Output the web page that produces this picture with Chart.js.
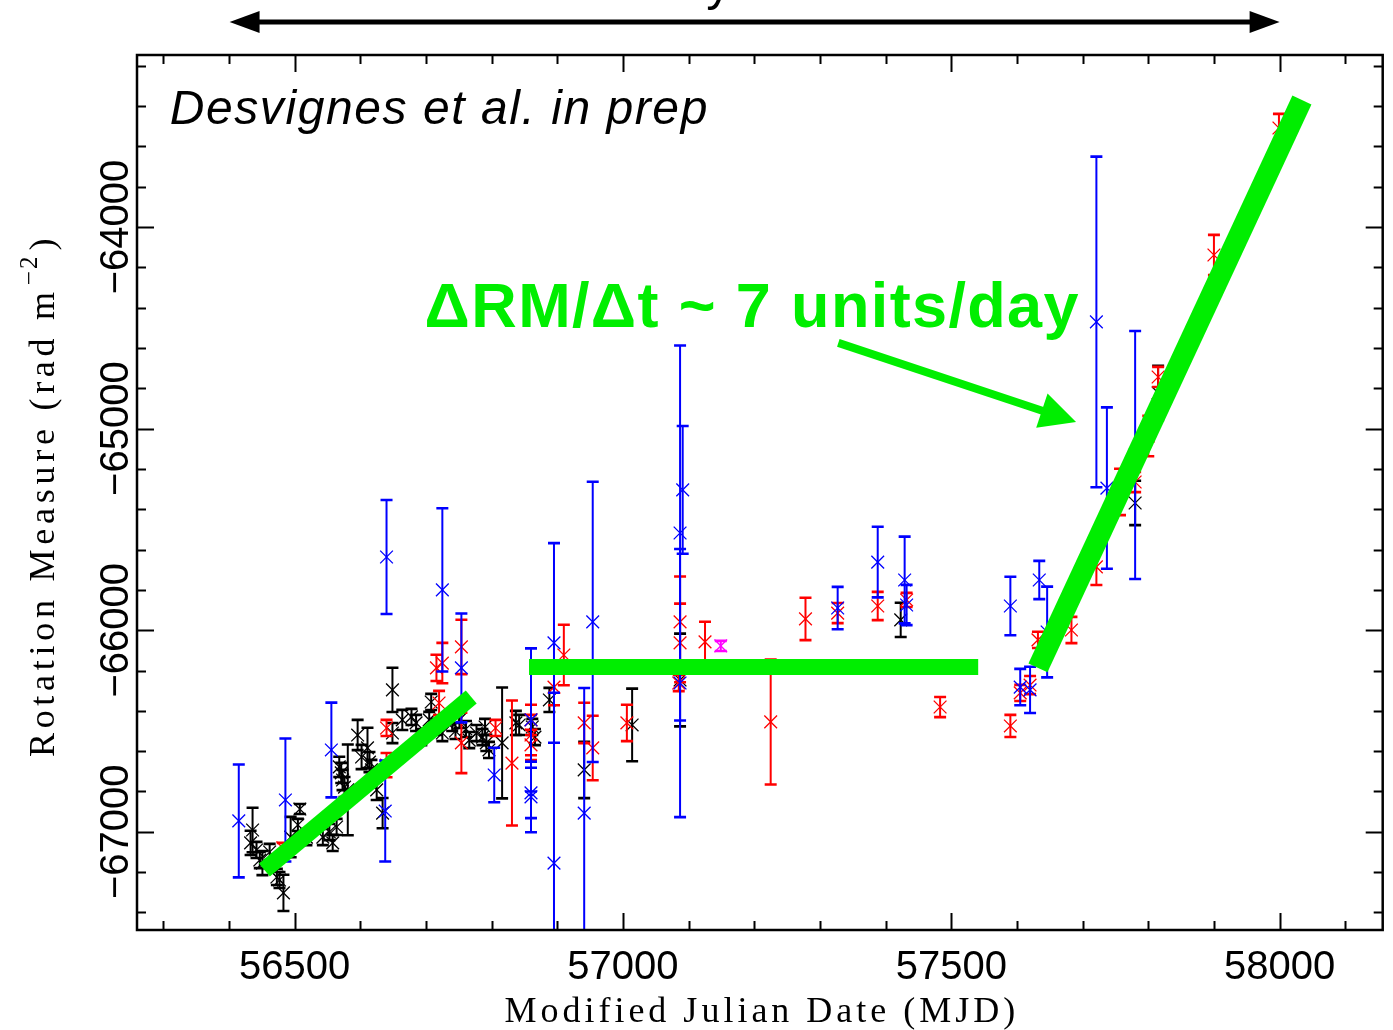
<!DOCTYPE html>
<html>
<head>
<meta charset="utf-8">
<script src="https://cdn.jsdelivr.net/npm/chart.js@4.4.0/dist/chart.umd.min.js"></script>
<style>
html,body{margin:0;padding:0;background:#ffffff;}
#wrap{width:1393px;height:1030px;position:relative;}
canvas{display:block;}
</style>
</head>
<body>
<div id="wrap"><canvas id="c" width="1393" height="1030"></canvas></div>
<script>
// ---------------- DATA (MJD, RM, 1-sigma error) ----------------
const blackMJD = [56436,56433,56442,56447,56451,56462,56473,56477,56483,56508,56505,56494,56518,56543,56553,56558,56564,56568,56571,56573,56576,56581,56596,56602,56611,56614,56617,56625,56634,56649,56649,56664,56678,56685,56693,56705,56708,56716,56725,56740,56745,56751,56761,56766,56777,56786,56790,56792,56796,56816,56837,56842,56862,56866,56888,56941,57014,57087,57423,57780,57815];
const blackRM  = [-66991,-67055,-67090,-67140,-67155,-67100,-67224,-67239,-67303,-66887,-66966,-67026,-67026,-67026,-67001,-67055,-66976,-66678,-66708,-66743,-66778,-66792,-66520,-66629,-66584,-66654,-66693,-66792,-66907,-66296,-66510,-66445,-66430,-66460,-66530,-66445,-66356,-66480,-66510,-66460,-66500,-66445,-66490,-66545,-66510,-66530,-66480,-66559,-66594,-66559,-66460,-66470,-66480,-66530,-66346,-66693,-66470,-66247,-65949,-65369,-64823];
const blackErr = [110,60,40,40,60,40,40,40,90,25,30,100,40,40,40,40,40,50,50,50,50,225,75,60,100,50,50,50,75,110,50,50,40,40,40,40,40,40,40,40,40,40,40,40,40,40,40,40,40,275,60,50,40,40,60,140,180,230,85,110,135];

const redMJD = [56640,56482,56716,56725,56754,56720,56640,56754,56831,56806,56860,56860,56860,56910,56895,56941,56954,57006,57087,57087,57085,57125,57225,57278,57327,57388,57432,57483,57590,57605,57620,57632,57683,57721,57757,57780,57800,57815,57900,57999];
const redRM  = [-66485,-67080,-66187,-66163,-66083,-66361,-66669,-66559,-66659,-66485,-66445,-66520,-66569,-66123,-66282,-66460,-66584,-66460,-65959,-66063,-66262,-66058,-66455,-65944,-65915,-65880,-65850,-66381,-66475,-66311,-66272,-66048,-65999,-65686,-65314,-65265,-65037,-64744,-64139,-63509];
const redErr = [40,25,65,100,135,60,60,150,310,40,75,100,75,150,90,100,160,90,225,195,40,100,310,105,50,70,35,50,55,40,45,40,65,90,115,50,100,50,100,70];

const blueMJD = [56415,56486,56556,56640,56638,56725,56754,56804,56860,56860,56860,56895,56895,56941,56954,57091,57087,57087,57327,57388,57429,57432,57590,57634,57646,57605,57620,57721,57737,57780];
const blueRM  = [-66946,-66842,-66594,-65637,-66897,-65800,-66187,-66718,-66445,-66807,-66827,-66063,-67155,-66907,-65959,-65304,-65518,-66262,-65890,-65662,-65751,-65875,-65880,-65751,-66009,-66282,-66296,-64471,-65295,-65131];
const blueErr = [280,305,235,283,250,405,270,135,355,125,175,495,845,620,695,317,930,665,105,175,215,100,145,95,225,90,115,820,400,615];

const magentaMJD = [57149];
const magentaRM  = [-66078];
const magentaErr = [25];

// green trend lines drawn over the data (MJD / RM end points)
const trend1MJD = [56454, 56769];  const trend1RM = [-67189, -66331];
const trend2MJD = [56857, 57541];  const trend2RM = [-66182, -66182];
const trend3MJD = [57632, 58034];  const trend3RM = [-66187, -63370];

// axis ticks
const xMajorTicks = [56500, 57000, 57500, 58000];
const yMajorTicks = [-67000, -66000, -65000, -64000];
const xMinorStep = 100, yMinorStep = 200;
const xRange = [56260, 58157];
const yRange = [-67487, -63147];

// annotations (in data units)
const slopeText = 'ΔRM/Δt ~ 7 units/day';
const slopeTextPos = [56698, -64496, 57696];      // left MJD, baseline RM, right MJD
const slopeArrow = [[57328, -64575], [57690, -64967]];
const creditText = 'Desvignes et al. in prep';
const creditTextPos = [56310, -63489, 57131];
const spanArrow = [[56401, -62983], [58000, -62983]];
const spanText = '~ 4 years';
const spanTextPos = [57313, -62874];

// ---------------- helpers ----------------
function pts(xs, ys){ return xs.map((v,i)=>({x:v, y:ys[i]})); }
const GREEN = '#00ee00';

function series(xs, ys, errs, color, order){
  return {
    type:'scatter', data:pts(xs, ys), errors:errs,
    borderColor:color, backgroundColor:color,
    pointStyle:'crossRot', pointRadius:9, pointBorderWidth:1.3, pointHoverRadius:9,
    showLine:false, order:order
  };
}
function trend(xs, ys, w){
  return { type:'scatter', data:pts(xs, ys), showLine:true, borderColor:GREEN, backgroundColor:GREEN,
    borderWidth:w, borderCapStyle:'butt', pointRadius:0, pointHoverRadius:0, order:0 };
}

const errorBarPlugin = {
  id:'errbars',
  beforeDatasetDraw(chart, args){
    const ds = chart.data.datasets[args.index];
    if(!ds.errors) return;
    const ctx = chart.ctx, ca = chart.chartArea, xs = chart.scales.x, ys = chart.scales.y;
    ctx.save();
    ctx.beginPath(); ctx.rect(ca.left, ca.top, ca.right-ca.left, ca.bottom-ca.top); ctx.clip();
    ctx.strokeStyle = ds.borderColor;
    ds.data.forEach((p,i)=>{
      const e = ds.errors[i];
      const px = xs.getPixelForValue(p.x);
      const y1 = ys.getPixelForValue(p.y + e), y2 = ys.getPixelForValue(p.y - e);
      ctx.lineWidth = 2;
      ctx.beginPath(); ctx.moveTo(px, y1); ctx.lineTo(px, y2); ctx.stroke();
      ctx.lineWidth = 2.6;
      ctx.beginPath();
      ctx.moveTo(px-6, y1); ctx.lineTo(px+6, y1);
      ctx.moveTo(px-6, y2); ctx.lineTo(px+6, y2);
      ctx.stroke();
    });
    ctx.restore();
  }
};

function drawArrowHead(ctx, x0, y0, x1, y1, len, hw){
  const dx = x1-x0, dy = y1-y0, L = Math.hypot(dx, dy);
  const ux = dx/L, uy = dy/L, nx = -uy, ny = ux;
  const bx = x1 - ux*len, by = y1 - uy*len;
  ctx.beginPath();
  ctx.moveTo(x1, y1);
  ctx.lineTo(bx + nx*hw, by + ny*hw);
  ctx.lineTo(bx - nx*hw, by - ny*hw);
  ctx.closePath(); ctx.fill();
}

function fitSpacing(ctx, text, target){
  ctx.letterSpacing = '0px';
  const w = ctx.measureText(text).width;
  const n = [...text].length;
  const sp = (target - w) / Math.max(1, n);
  ctx.letterSpacing = sp.toFixed(2) + 'px';
}

const framePlugin = {
  id:'frame',
  afterDraw(chart){
    const ctx = chart.ctx, ca = chart.chartArea, xs = chart.scales.x, ys = chart.scales.y;
    ctx.save();
    // ticks (inward, all four sides)
    ctx.strokeStyle = '#000'; ctx.lineWidth = 2;
    const majLen = 17, minLen = 9;
    ctx.beginPath();
    for(let v = Math.ceil(xRange[0]/xMinorStep)*xMinorStep; v <= xRange[1]; v += xMinorStep){
      const px = Math.round(xs.getPixelForValue(v)) + 0.5;
      const len = (xMajorTicks.includes(v)) ? majLen : minLen;
      ctx.moveTo(px, ca.bottom); ctx.lineTo(px, ca.bottom - len);
      ctx.moveTo(px, ca.top); ctx.lineTo(px, ca.top + len);
    }
    for(let v = Math.ceil(yRange[0]/yMinorStep)*yMinorStep; v <= yRange[1]; v += yMinorStep){
      const py = Math.round(ys.getPixelForValue(v)) + 0.5;
      const len = (yMajorTicks.includes(v)) ? majLen : minLen;
      ctx.moveTo(ca.left, py); ctx.lineTo(ca.left + len, py);
      ctx.moveTo(ca.right, py); ctx.lineTo(ca.right - len, py);
    }
    ctx.stroke();
    // frame
    ctx.lineWidth = 2.5;
    ctx.strokeRect(ca.left, ca.top, ca.right-ca.left, ca.bottom-ca.top);

    // tick labels
    ctx.fillStyle = '#000';
    ctx.font = '40px "Liberation Sans", Arial, sans-serif';
    ctx.textAlign = 'center'; ctx.textBaseline = 'alphabetic';
    xMajorTicks.forEach(v=>{
      ctx.fillText(String(v), xs.getPixelForValue(v), ca.bottom + 49);
    });
    yMajorTicks.forEach(v=>{
      const py = ys.getPixelForValue(v);
      ctx.save(); ctx.translate(ca.left - 9, py); ctx.rotate(-Math.PI/2);
      ctx.fillText('\u2212' + String(Math.abs(v)), 0, 0);
      ctx.restore();
    });

    // axis titles
    ctx.font = '36px "Liberation Serif", "DejaVu Serif", serif';
    ctx.textAlign = 'center';
    const xt = 'Modified Julian Date (MJD)';
    fitSpacing(ctx, xt, 515);
    ctx.fillText(xt, (ca.left+ca.right)/2 + 2, ca.bottom + 92);
    // y title with superscript
    const main = 'Rotation Measure (rad m', sup = '\u22122', tail = ')';
    ctx.save();
    ctx.translate(54, 0); ctx.rotate(-Math.PI/2);
    ctx.font = '36px "Liberation Serif", "DejaVu Serif", serif';
    fitSpacing(ctx, main, 470);
    ctx.textAlign = 'left';
    const mw = ctx.measureText(main).width;
    const tw = ctx.measureText(tail).width;
    ctx.font = '25px "Liberation Serif", "DejaVu Serif", serif';
    ctx.letterSpacing = '2px';
    const sw = ctx.measureText(sup).width;
    const total = mw + sw + tw + 6;
    const start = -((ca.top+ca.bottom)/2 + 3) - total/2;
    ctx.font = '36px "Liberation Serif", "DejaVu Serif", serif';
    fitSpacing(ctx, main, 470);
    ctx.fillText(main, start, 0);
    ctx.font = '25px "Liberation Serif", "DejaVu Serif", serif';
    ctx.letterSpacing = '2px';
    ctx.fillText(sup, start + mw + 2, -17);
    ctx.font = '36px "Liberation Serif", "DejaVu Serif", serif';
    ctx.letterSpacing = '0px';
    ctx.fillText(tail, start + mw + sw + 6, 0);
    ctx.restore();
    ctx.letterSpacing = '0px';

    // credit text
    ctx.font = 'italic 48px "Liberation Sans", Arial, sans-serif';
    ctx.textAlign = 'left';
    {
      const x0 = xs.getPixelForValue(creditTextPos[0]), x1 = xs.getPixelForValue(creditTextPos[2]);
      fitSpacing(ctx, creditText, x1 - x0);
      ctx.fillText(creditText, x0, ys.getPixelForValue(creditTextPos[1]));
      ctx.letterSpacing = '0px';
    }

    // green slope text
    ctx.fillStyle = GREEN;
    ctx.font = 'bold 63px "Liberation Sans", Arial, sans-serif';
    {
      const x0 = xs.getPixelForValue(slopeTextPos[0]), x1 = xs.getPixelForValue(slopeTextPos[2]);
      fitSpacing(ctx, slopeText, x1 - x0);
      ctx.fillText(slopeText, x0, ys.getPixelForValue(slopeTextPos[1]));
      ctx.letterSpacing = '0px';
    }
    // green arrow
    {
      const ax0 = xs.getPixelForValue(slopeArrow[0][0]), ay0 = ys.getPixelForValue(slopeArrow[0][1]);
      const ax1 = xs.getPixelForValue(slopeArrow[1][0]), ay1 = ys.getPixelForValue(slopeArrow[1][1]);
      const L = Math.hypot(ax1-ax0, ay1-ay0);
      const ux = (ax1-ax0)/L, uy = (ay1-ay0)/L;
      ctx.strokeStyle = GREEN; ctx.lineWidth = 8; ctx.lineCap = 'butt';
      ctx.beginPath(); ctx.moveTo(ax0, ay0); ctx.lineTo(ax1 - ux*30, ay1 - uy*30); ctx.stroke();
      drawArrowHead(ctx, ax0, ay0, ax1, ay1, 36, 18);
    }

    // top span arrow
    ctx.fillStyle = '#000'; ctx.strokeStyle = '#000';
    {
      const sx0 = xs.getPixelForValue(spanArrow[0][0]), sy0 = ys.getPixelForValue(spanArrow[0][1]);
      const sx1 = xs.getPixelForValue(spanArrow[1][0]), sy1 = ys.getPixelForValue(spanArrow[1][1]);
      ctx.lineWidth = 5;
      ctx.beginPath(); ctx.moveTo(sx0 + 20, sy0); ctx.lineTo(sx1 - 20, sy1); ctx.stroke();
      drawArrowHead(ctx, sx1, sy1, sx0, sy0, 30, 11);
      drawArrowHead(ctx, sx0, sy0, sx1, sy1, 30, 11);
      ctx.font = '50px "Liberation Sans", Arial, sans-serif';
      ctx.textAlign = 'right';
      ctx.fillText(spanText, xs.getPixelForValue(spanTextPos[0]), ys.getPixelForValue(spanTextPos[1]));
    }
    ctx.restore();
  }
};

const chart = new Chart(document.getElementById('c').getContext('2d'), {
  type:'scatter',
  data:{ datasets:[
    trend(trend1MJD, trend1RM, 17),
    trend(trend2MJD, trend2RM, 16),
    trend(trend3MJD, trend3RM, 21),
    series(magentaMJD, magentaRM, magentaErr, '#ff00ff', 1),
    series(blueMJD, blueRM, blueErr, '#0000ff', 2),
    series(redMJD, redRM, redErr, '#ff0000', 3),
    series(blackMJD, blackRM, blackErr, '#000000', 4)
  ]},
  options:{
    responsive:false, animation:false, devicePixelRatio:1,
    layout:{ padding:{ left:137, top:55, right:8, bottom:100 } },
    scales:{
      x:{ type:'linear', min:xRange[0], max:xRange[1], display:false },
      y:{ type:'linear', min:yRange[0], max:yRange[1], display:false }
    },
    plugins:{ legend:{display:false}, tooltip:{enabled:false}, title:{display:false} },
    events:[]
  },
  plugins:[errorBarPlugin, framePlugin]
});
</script>
</body>
</html>
